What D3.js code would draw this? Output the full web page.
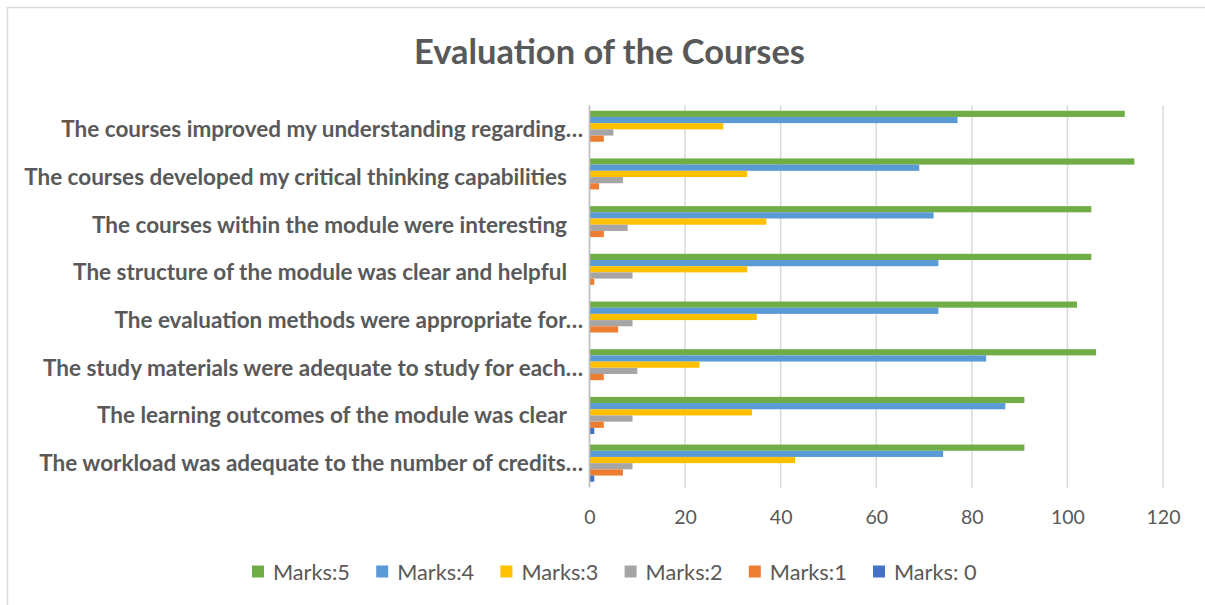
<!DOCTYPE html>
<html>
<head>
<meta charset="utf-8">
<script src="https://cdn.jsdelivr.net/npm/d3@7"></script>
<style>
  html, body { margin: 0; padding: 0; background: #ffffff; }
  svg { display: block; }
</style>
</head>
<body>
<svg id="chart" width="1205" height="605"></svg>
<script>
// ---- data (Excel order: first category drawn at the bottom) ----
const categories = [
  "The workload was adequate to the number of credits…",
  "The learning outcomes of the module was clear",
  "The study materials were adequate to study for each…",
  "The evaluation methods were appropriate for…",
  "The structure of the module was clear and helpful",
  "The courses within the module were interesting",
  "The courses developed my critical thinking capabilities",
  "The courses improved my understanding regarding…"
];
const seriesNames = ["Marks:5", "Marks:4", "Marks:3", "Marks:2", "Marks:1", "Marks: 0"];
const marks5 = [91, 91, 106, 102, 105, 105, 114, 112];
const marks4 = [74, 87, 83, 73, 73, 72, 69, 77];
const marks3 = [43, 34, 23, 35, 33, 37, 33, 28];
const marks2 = [9, 9, 10, 9, 9, 8, 7, 5];
const marks1 = [7, 3, 3, 6, 1, 3, 2, 3];
const marks0 = [1, 1, 0, 0, 0, 0, 0, 0];
const seriesValues = [marks5, marks4, marks3, marks2, marks1, marks0];
const seriesColors = ["#70AD47", "#5B9BD5", "#FFC000", "#A5A5A5", "#ED7D31", "#4472C4"];
const xTicks = [0, 20, 40, 60, 80, 100, 120];
const titleText = "Evaluation of the Courses";

// ---- layout ----
const svg = d3.select("#chart");
const FONT = "Lato, 'Open Sans', sans-serif";
const TEXT = "#595959";
const plot = { left: 589.5, right: 1163, top: 105.5, bottom: 487 };

// chart-area border (cropped at right and bottom like the reference)
svg.append("path")
  .attr("d", "M7.5,605 L7.5,7.5 L1205,7.5")
  .attr("fill", "none").attr("stroke", "#D9D9D9").attr("stroke-width", 1.5);

const x = d3.scaleLinear().domain([0, 120]).range([plot.left, plot.right]);
// top-to-bottom display: reverse the Excel order
const y0 = d3.scaleBand().domain(categories.slice().reverse()).range([plot.top, plot.bottom]).padding(0);
const bw = y0.bandwidth();
const y1 = d3.scaleBand().domain(seriesNames).range([bw * 0.11, bw * 0.89]).padding(0);

// helper: fit text width
function fitSize(sel, target, base) {
  sel.attr("font-size", base);
  const w = sel.node().getComputedTextLength();
  const s = base * target / w;
  sel.attr("font-size", s);
  return s;
}

// gridlines
svg.append("g").selectAll("line").data(xTicks).join("line")
  .attr("x1", d => x(d)).attr("x2", d => x(d))
  .attr("y1", plot.top).attr("y2", plot.bottom + 1)
  .attr("stroke", "#D9D9D9").attr("stroke-width", 1.5);

// bars
const groups = svg.append("g").selectAll("g").data(categories).join("g")
  .attr("transform", d => `translate(0,${y0(d)})`);
groups.selectAll("rect")
  .data((d, i) => seriesNames.map((s, k) => ({ s, k, v: seriesValues[k][i] })))
  .join("rect")
  .attr("x", x(0))
  .attr("y", d => y1(d.s))
  .attr("width", d => x(d.v) - x(0))
  .attr("height", y1.bandwidth())
  .attr("fill", d => seriesColors[d.k]);

// vertical axis line
svg.append("line")
  .attr("x1", x(0)).attr("x2", x(0))
  .attr("y1", plot.top).attr("y2", plot.bottom)
  .attr("stroke", "#BFBFBF").attr("stroke-width", 1.5);

// x axis tick labels via d3 axis
const xAxis = d3.axisBottom(x).tickValues(xTicks).tickSize(0).tickFormat(d3.format("d"));
const gx = svg.append("g").call(xAxis);
gx.select(".domain").remove();
gx.selectAll("text")
  .attr("y", 517).attr("dy", "0.35em")
  .attr("font-family", FONT).attr("font-size", 19).attr("fill", TEXT);
{
  const t = gx.selectAll("text").filter(d => d === 100);
  const s = fitSize(t, 34, 19);
  gx.selectAll("text").attr("font-size", s);
}

// category labels
const catLabels = svg.append("g").selectAll("text").data(categories).join("text")
  .attr("x", d => d.endsWith("…") ? 583 : 567)
  .attr("y", d => y0(d) + bw / 2)
  .attr("dy", "0.35em")
  .attr("text-anchor", "end")
  .attr("font-family", FONT).attr("font-weight", "bold")
  .attr("fill", TEXT)
  .text(d => d);
{
  const t = catLabels.filter(d => d.startsWith("The courses developed"));
  const s = fitSize(t, 543, 18);
  catLabels.attr("font-size", s);
}

// title
const title = svg.append("text")
  .attr("x", 609.5).attr("y", 52).attr("dy", "0.35em")
  .attr("text-anchor", "middle")
  .attr("font-family", FONT).attr("font-weight", "bold")
  .attr("fill", TEXT)
  .text(titleText);
fitSize(title, 391, 30);

// legend
const legendX0 = 252, legendStep = 124.2, legendY = 572;
const leg = svg.append("g").selectAll("g").data(seriesNames).join("g")
  .attr("transform", (d, i) => `translate(${legendX0 + i * legendStep},${legendY})`);
leg.append("rect")
  .attr("x", 0).attr("y", -6.5).attr("width", 12).attr("height", 12)
  .attr("fill", (d, i) => seriesColors[i]);
const legText = leg.append("text")
  .attr("x", 21).attr("y", 0).attr("dy", "0.35em")
  .attr("font-family", FONT).attr("fill", TEXT)
  .text(d => d);
{
  const t = legText.filter(d => d === "Marks:5");
  const s = fitSize(t, 77, 18);
  legText.attr("font-size", s);
}
</script>
</body>
</html>
